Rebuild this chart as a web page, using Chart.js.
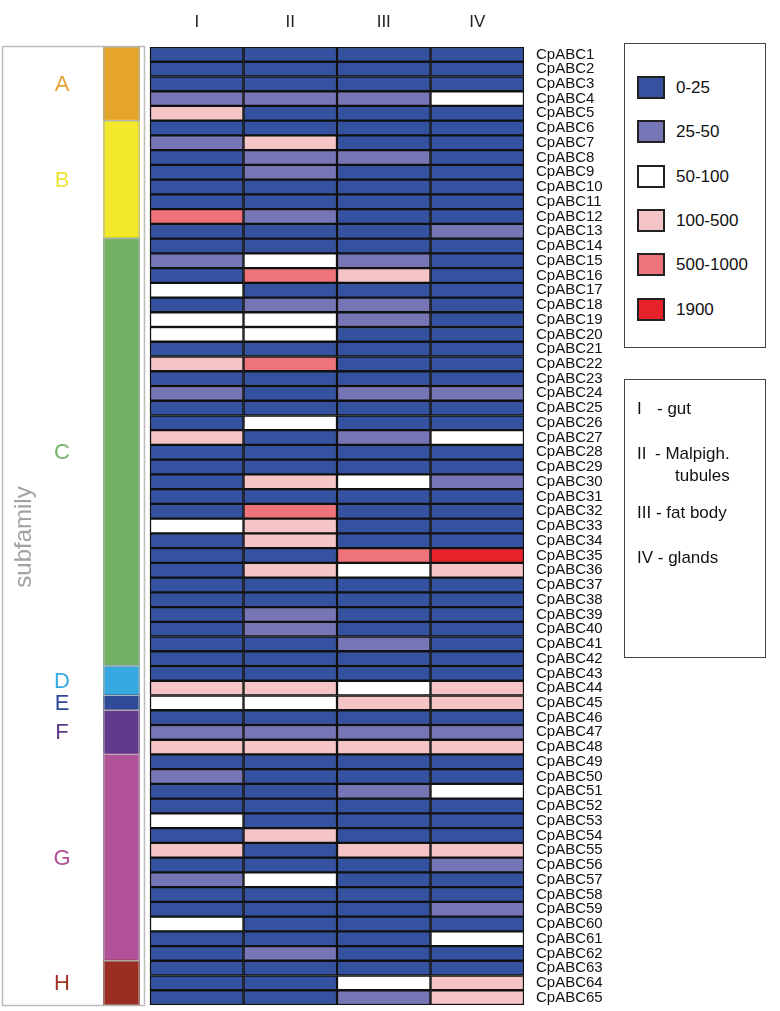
<!DOCTYPE html>
<html><head><meta charset="utf-8">
<script src="https://cdn.jsdelivr.net/npm/chart.js@4.4.1/dist/chart.umd.min.js"></script>
<style>
html,body{margin:0;padding:0;background:#fff;}
#wrap{position:relative;width:780px;height:1011px;font-family:'Liberation Sans',Arial,sans-serif;color:#111;}
#c{position:absolute;left:0;top:0;}
.box{position:absolute;border:1.5px solid #444;box-sizing:border-box;background:#fff;}
.item{position:absolute;left:12px;height:23px;}
.sw{position:absolute;left:0;top:0;width:28px;height:23px;border:2px solid #222;box-sizing:border-box;}
.lt{position:absolute;left:39px;top:0;line-height:23px;font-size:17px;white-space:nowrap;}
.tl{position:absolute;font-size:17px;line-height:20px;white-space:nowrap;}
</style></head>
<body><div id="wrap">
<canvas id="c" width="780" height="1011"></canvas>
<div class="box" id="legend1" style="left:624px;top:43px;width:142px;height:305px;"></div>
<div class="box" id="legend2" style="left:624px;top:379px;width:142px;height:279px;">
  <div class="tl" style="left:12px;top:19px;">I</div><div class="tl" style="left:32px;top:19px;">- gut</div>
  <div class="tl" style="left:12px;top:64px;">II</div><div class="tl" style="left:30px;top:64px;">- Malpigh.</div>
  <div class="tl" style="left:50px;top:86px;">tubules</div>
  <div class="tl" style="left:12px;top:123px;">III - fat body</div>
  <div class="tl" style="left:12px;top:168px;">IV - glands</div>
</div>
</div>
<script>
const tissues = ['I','II','III','IV'];
const binLabels = ['0-25','25-50','50-100','100-500','500-1000','1900'];
const binColors = ['#34529f','#7676b6','#ffffff','#f5c4c6','#ef737a','#e8222b'];
const genes = Array.from({length:65},(_,i)=>'CpABC'+(i+1));

// expression bin index per gene (rows CpABC1..CpABC65)
const gut = [0,0,0,1,3,0,1,0,0,0, 0,4,0,0,1,0,2,0,2,2, 0,3,0,1,0,0,3,0,0,0, 0,0,2,0,0,0,0,0,0,0, 0,0,0,3,2,0,1,3,0,1, 0,0,2,0,3,0,1,0,0,2, 0,0,0,0,0];
const malpighian = [0,0,0,1,0,0,3,1,1,0, 0,1,0,0,2,4,0,1,2,2, 0,4,0,0,0,2,0,0,0,3, 0,4,3,3,0,3,0,0,1,1, 0,0,0,3,2,0,1,3,0,0, 0,0,0,3,0,0,2,0,0,0, 0,1,0,0,0];
const fatBody = [0,0,0,1,0,0,0,1,0,0, 0,0,0,0,1,3,0,1,1,0, 0,0,0,1,0,0,1,0,0,2, 0,0,0,0,4,2,0,0,0,0, 1,0,0,2,3,0,1,3,0,0, 1,0,0,0,3,0,0,0,0,0, 0,0,0,2,1];
const glands = [0,0,0,2,0,0,0,0,0,0, 0,0,1,0,0,0,0,0,0,0, 0,0,0,1,0,0,2,0,0,1, 0,0,0,0,5,3,0,0,0,0, 0,0,0,3,3,0,1,3,0,0, 2,0,0,0,3,1,0,0,1,0, 2,0,0,3,3];

const subfamilies = ['A','B','C','D','E','F','G','H'];
const subfamilySizes = [5,8,29,2,1,3,14,3];
const subfamilyColors = ['#e5a42a','#f1e92a','#74b063','#36aae0','#2f4b98','#623a8c','#b15298','#9a2e22'];
const subfamilyTextColors = ['#e8a232','#ece43a','#74b466','#38a8e0','#30489a','#60388c','#b05098','#a03828'];

// build legend 1 from bins
const lg = document.getElementById('legend1');
binLabels.forEach((lab,i)=>{
  const d = document.createElement('div');
  d.className='item'; d.style.top = (32 + i*44.3) + 'px';
  d.innerHTML = '<div class="sw" style="background:'+binColors[i]+'"></div><div class="lt">'+lab+'</div>';
  lg.appendChild(d);
});

const rowFamily = [];
subfamilySizes.forEach((n,k)=>{ for(let j=0;j<n;j++) rowFamily.push(k); });

const STRIP_X0 = -0.492, STRIP_X1 = -0.118;
const cols = [gut, malpighian, fatBody, glands];
const datasets = cols.map((arr,ci)=>({
  label: tissues[ci],
  data: arr.map(()=>[ci, ci+1]),
  backgroundColor: arr.map(b=>binColors[b]),
  borderColor: '#111',
  borderWidth: 1.5,
  borderSkipped: false,
  barPercentage: 1,
  categoryPercentage: 1
}));
datasets.push({
  label: 'subfamily',
  data: genes.map(()=>[STRIP_X0, STRIP_X1]),
  backgroundColor: rowFamily.map(k=>subfamilyColors[k]),
  borderWidth: 0,
  borderSkipped: false,
  inflateAmount: 1,
  barPercentage: 1,
  categoryPercentage: 1
});

const leftPanel = {
  id: 'leftPanel',
  beforeDatasetsDraw(chart){
    const ctx = chart.ctx, y = chart.scales.y;
    ctx.save();
    ctx.strokeStyle = '#bdbdbd'; ctx.lineWidth = 1.5;
    ctx.strokeRect(2.5, y.top - 0.5, 142, y.bottom - y.top + 1);
    ctx.translate(24, 537);
    ctx.rotate(-Math.PI/2);
    ctx.fillStyle = '#a3a3a3';
    ctx.font = '24px "Liberation Sans", Arial, sans-serif';
    ctx.textAlign = 'center'; ctx.textBaseline = 'middle';
    ctx.fillText('subfamily', 0, 0);
    ctx.restore();
  },
  afterDatasetsDraw(chart){
    const ctx = chart.ctx, y = chart.scales.y, x = chart.scales.x;
    const h = (y.bottom - y.top) / genes.length;
    const x0 = x.getPixelForValue(STRIP_X0), x1 = x.getPixelForValue(STRIP_X1);
    ctx.save();
    let start = 0;
    subfamilySizes.forEach((n,k)=>{
      const top = y.getPixelForValue(start) - h/2;
      const bot = y.getPixelForValue(start + n - 1) + h/2;
      ctx.strokeStyle = '#b0b0b0'; ctx.lineWidth = 1;
      ctx.strokeRect(x0, top, x1 - x0, bot - top);
      ctx.fillStyle = subfamilyTextColors[k];
      ctx.font = '22px "Liberation Sans", Arial, sans-serif';
      ctx.textAlign = 'center'; ctx.textBaseline = 'middle';
      ctx.fillText(subfamilies[k], 62, (top + bot)/2 + 1);
      start += n;
    });
    ctx.restore();
  }
};

new Chart(document.getElementById('c'), {
  type: 'bar',
  data: { labels: genes, datasets },
  options: {
    indexAxis: 'y',
    responsive: false,
    animation: false,
    devicePixelRatio: 1,
    layout: { padding: { left: 2, right: 0, top: 0, bottom: 6 } },
    plugins: { legend: { display: false }, tooltip: { enabled: false } },
    scales: {
      x: {
        type: 'linear', position: 'top', min: -1.583, max: 4, stacked: false,
        grid: { display: false, drawTicks: false }, border: { display: false },
        afterBuildTicks: s => { s.ticks = [0.5,1.5,2.5,3.5].map(v=>({value:v})); },
        afterFit: s => { s.height = 47; s.paddingLeft = 0; s.paddingRight = 0; },
        ticks: { padding: 14, color: '#222', font: { size: 17, family: '"Liberation Sans", Arial, sans-serif' },
                 callback: v => tissues[Math.floor(v)] }
      },
      y: {
        type: 'category', position: 'right', stacked: true,
        grid: { display: false, drawTicks: false }, border: { display: false },
        afterFit: s => { s.width = 256; s.paddingTop = 0; s.paddingBottom = 0; },
        ticks: { autoSkip: false, padding: 12, color: '#111', font: { size: 15, family: '"Liberation Sans", Arial, sans-serif' } }
      }
    }
  },
  plugins: [leftPanel]
});
</script>
</body></html>
